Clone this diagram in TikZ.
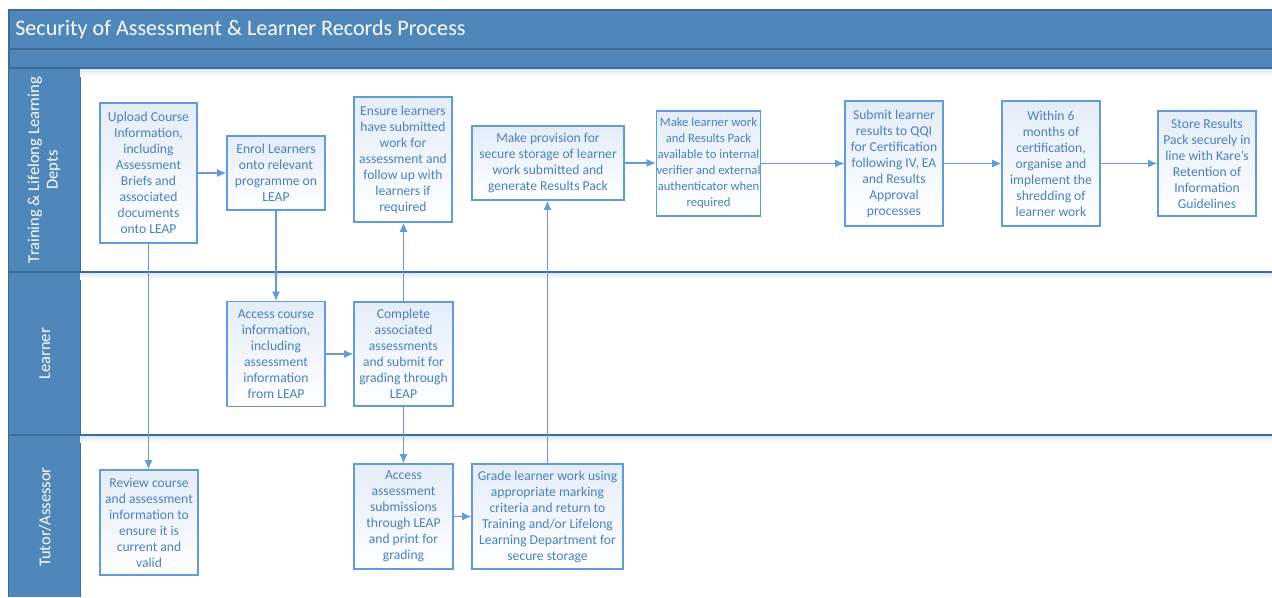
\documentclass[tikz,border=0pt]{standalone}
\usepackage{fontspec}
\setmainfont{Carlito}
\usetikzlibrary{arrows.meta,shapes.geometric}
\definecolor{bandc}{RGB}{79,135,187}
\definecolor{banddark}{RGB}{62,108,152}
\definecolor{boxc}{RGB}{99,155,212}
\definecolor{txtc}{RGB}{77,127,190}
\definecolor{boxtop}{RGB}{228,237,248}
\definecolor{shadowc}{RGB}{214,228,243}
\tikzset{
  proc/.style={draw=boxc, line width=0.8pt, top color=boxtop, bottom color=white,
    text=txtc, align=center, inner xsep=0pt, inner ysep=1pt, font=\fontsize{10.2}{12}\selectfont},
  arr/.style={draw=boxc, line width=1.1pt, -{Latex[length=7pt,width=6pt]}},
  lanelabel/.style={text=white, rotate=90, align=center, font=\fontsize{12.4}{13.8}\selectfont},
  divider/.style={draw=banddark, line width=0.8pt}
}
\begin{document}
\begin{tikzpicture}[x=0.75pt,y=-0.75pt]
\useasboundingbox (0,0) rectangle (1272,597);
\fill[white] (0,0) rectangle (1272,597);
% title bar and band
\fill[bandc] (9,10) rectangle (1272,68);
\draw[banddark, line width=0.8pt] (9,597) -- (9,10) -- (1272,10);
\draw[banddark, line width=0.8pt] (9,49) -- (1272,49);
% lane column
\fill[bandc] (9,68) rectangle (80,597);
\draw[banddark, line width=0.6pt] (80,68) -- (80,597);
% shadows
\shade[top color=shadowc, bottom color=white] (80,68) rectangle (1272,76);
\shade[top color=shadowc, bottom color=white] (80,272) rectangle (1272,279);
\shade[top color=shadowc, bottom color=white] (80,435) rectangle (1272,442);
\draw[divider] (9,68) -- (1272,68);
\draw[divider] (9,272) -- (1272,272);
\draw[divider] (9,435) -- (1272,435);
% title
\node[anchor=west, text=white, font=\fontsize{16.6}{19}\selectfont, inner sep=0pt] (title) at (15,30) {Security of Assessment \& Learner Records Process};
% lane labels
\node[lanelabel] (l1) at (44,170) {Training \& Lifelong Learning\\Depts};
\node[lanelabel] (l2) at (45,354) {Learner};
\node[lanelabel] (l3) at (45,517) {Tutor/Assessor};
% boxes lane 1
\node[proc, minimum width=72.75pt, minimum height=105pt] (upload) at (148.5,173) {Upload Course\\Information,\\including\\Assessment\\Briefs and\\associated\\documents\\onto LEAP};
\node[proc, minimum width=73.5pt, minimum height=55.5pt] (enrol) at (276,173) {Enrol Learners\\onto relevant\\programme on\\LEAP};
\node[proc, minimum width=73.5pt, minimum height=93.75pt] (ensure) at (403,159.5) {Ensure learners\\have submitted\\work for\\assessment and\\follow up with\\learners if\\required};
\node[proc, minimum width=114pt, minimum height=55.5pt] (provision) at (548,163) {Make provision for\\secure storage of learner\\work submitted and\\generate Results Pack};
\node[proc, minimum width=77.25pt, minimum height=78.75pt, font=\fontsize{9.5}{12}\selectfont] (available) at (708.5,163.5) {Make learner work\\and Results Pack\\available to internal\\verifier and external\\authenticator when\\required};
\node[proc, minimum width=73.5pt, minimum height=93.75pt] (submit) at (894,163.5) {Submit learner\\results to QQI\\for Certification\\following IV, EA\\and Results\\Approval\\processes};
\node[proc, minimum width=73.5pt, minimum height=93.75pt] (within) at (1051,163.5) {Within 6\\months of\\certification,\\organise and\\implement the\\shredding of\\learner work};
\node[proc, minimum width=73.5pt, minimum height=78.75pt] (store) at (1207,163.5) {Store Results\\Pack securely in\\line with Kare’s\\Retention of\\Information\\Guidelines};
% lane 2
\node[proc, minimum width=73.5pt, minimum height=78.75pt] (access) at (276,354) {Access course\\information,\\including\\assessment\\information\\from LEAP};
\node[proc, minimum width=74.25pt, minimum height=78pt] (complete) at (403.5,354) {Complete\\associated\\assessments\\and submit for\\grading through\\LEAP};
% lane 3
\node[proc, minimum width=73.5pt, minimum height=78.75pt] (review) at (149,522.5) {Review course\\and assessment\\information to\\ensure it is\\current and\\valid};
\node[proc, minimum width=74.25pt, minimum height=78.75pt] (submissions) at (403.5,516.5) {Access\\assessment\\submissions\\through LEAP\\and print for\\grading};
\node[proc, minimum width=113.25pt, minimum height=78.75pt] (grade) at (547.5,516.5) {Grade learner work using\\appropriate marking\\criteria and return to\\Training and/or Lifelong\\Learning Department for\\secure storage};
% connectors
\draw[arr] (upload.east |- enrol.west) -- (enrol.west);
\draw[arr] (upload.south) -- (upload.south |- review.north);
\draw[arr] (enrol.south) -- (enrol.south |- access.north);
\draw[arr] (access.east) -- (complete.west);
\draw[arr] (complete.north) -- (complete.north |- ensure.south);
\draw[arr] (complete.south) -- (complete.south |- submissions.north);
\draw[arr] (submissions.east) -- (grade.west);
\draw[arr] (grade.north) -- (grade.north |- provision.south);
\draw[arr] (provision.east) -- (provision.east -| available.west);
\draw[arr] (available.east) -- (available.east -| submit.west);
\draw[arr] (submit.east) -- (submit.east -| within.west);
\draw[arr] (within.east) -- (within.east -| store.west);
\end{tikzpicture}
\end{document}
